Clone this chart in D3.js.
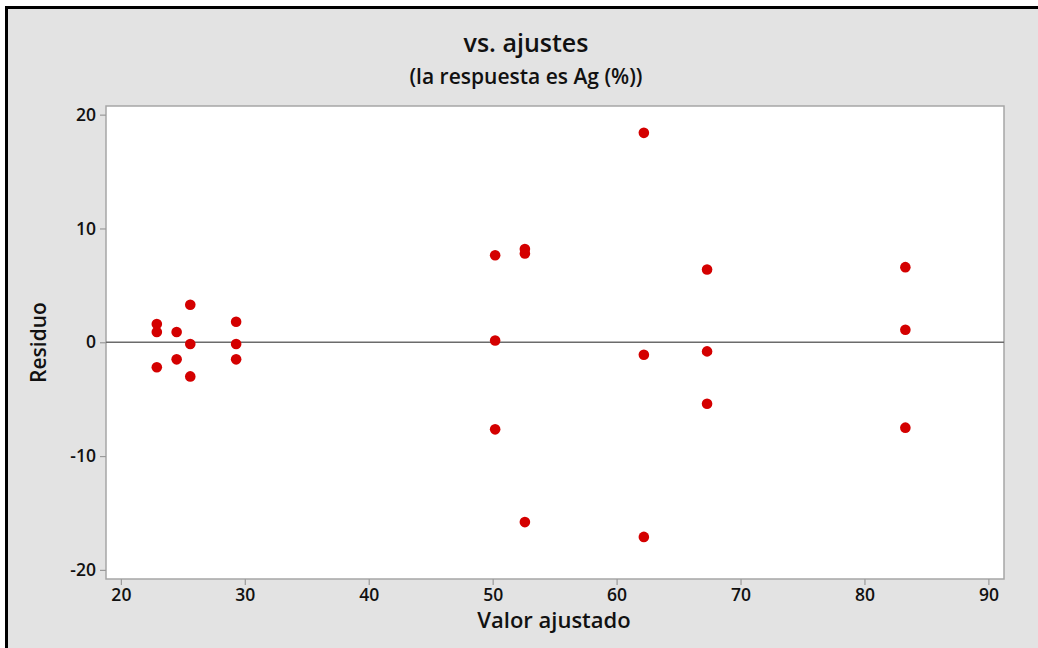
<!DOCTYPE html>
<html>
<head>
<meta charset="utf-8">
<script src="https://cdn.jsdelivr.net/npm/d3@7"></script>
<style>
  html, body { margin: 0; padding: 0; background: #ffffff; }
  svg { display: block; }
  text { font-family: "Open Sans", "Noto Sans", sans-serif; fill: #111; }
</style>
</head>
<body>
<svg id="chart" width="1038" height="648"></svg>
<script>
// ---- Data ----
const fittedValues = [
  22.9, 22.9, 22.9,
  24.5, 24.5,
  25.6, 25.6, 25.6,
  29.3, 29.3, 29.3,
  50.2, 50.2, 50.2,
  52.6, 52.6, 52.6,
  62.2, 62.2, 62.2,
  67.3, 67.3, 67.3,
  83.3, 83.3, 83.3
];
const residuals = [
  1.6, 0.9, -2.2,
  0.9, -1.5,
  3.3, -0.15, -3.0,
  1.8, -0.15, -1.5,
  7.65, 0.15, -7.65,
  8.2, 7.8, -15.8,
  18.4, -1.1, -17.1,
  6.4, -0.8, -5.4,
  6.6, 1.1, -7.5
];
const xTicks = [20, 30, 40, 50, 60, 70, 80, 90];
const yTicks = [-20, -10, 0, 10, 20];
const titleText = "vs. ajustes";
const subtitleText = "(la respuesta es Ag (%))";
const xLabel = "Valor ajustado";
const yLabel = "Residuo";

// ---- Layout ----
const svg = d3.select("#chart");
const W = 1038, H = 648;
const plot = { left: 106, right: 1004, top: 106, bottom: 579 };

// background + outer frame
svg.append("rect").attr("x", 0).attr("y", 0).attr("width", W).attr("height", H).attr("fill", "#ffffff");
svg.append("rect").attr("x", 6.5).attr("y", 7.5).attr("width", W + 20).attr("height", H + 20)
  .attr("fill", "#e3e3e3").attr("stroke", "#000").attr("stroke-width", 3);

const x = d3.scaleLinear().domain([18.8, 91.26]).range([plot.left, plot.right]);
const y = d3.scaleLinear().domain([-20.8, 20.76]).range([plot.bottom, plot.top]);

// plot area
svg.append("rect")
  .attr("x", plot.left).attr("y", plot.top)
  .attr("width", plot.right - plot.left).attr("height", plot.bottom - plot.top)
  .attr("fill", "#ffffff").attr("stroke", "#a6a6a6").attr("stroke-width", 1.5);

// axes
const fmt = d => String(d); // plain hyphen-minus like the reference
const xAxis = d3.axisBottom(x).tickValues(xTicks).tickSize(6).tickPadding(3).tickFormat(fmt);
const yAxis = d3.axisLeft(y).tickValues(yTicks).tickSize(6).tickPadding(4).tickFormat(fmt);

const gx = svg.append("g").attr("transform", `translate(0,${plot.bottom})`).call(xAxis);
const gy = svg.append("g").attr("transform", `translate(${plot.left},0)`).call(yAxis);
[gx, gy].forEach(g => {
  g.select(".domain").remove();
  g.selectAll(".tick line").attr("stroke", "#9a9a9a").attr("stroke-width", 1.2);
  g.selectAll(".tick text").attr("font-size", 17.5).attr("font-weight", 600)
    .attr("fill", "#111").style("font-family", '"Open Sans", sans-serif');
});
gx.selectAll(".tick text").attr("dy", "0.75em");

// reference line at 0
svg.append("line")
  .attr("x1", plot.left).attr("x2", plot.right)
  .attr("y1", y(0)).attr("y2", y(0))
  .attr("stroke", "#6b6b6b").attr("stroke-width", 1.6);

// points
const pts = fittedValues.map((f, i) => ({ f, r: residuals[i] }));
svg.append("g").selectAll("circle").data(pts).join("circle")
  .attr("cx", d => x(d.f)).attr("cy", d => y(d.r)).attr("r", 5.3)
  .attr("fill", "#d40000");

// titles
svg.append("text").attr("x", 526).attr("y", 52).attr("text-anchor", "middle")
  .attr("font-size", 25).attr("font-weight", 600).text(titleText);
svg.append("text").attr("x", 526).attr("y", 84).attr("text-anchor", "middle")
  .attr("font-size", 21).attr("font-weight", 600).text(subtitleText);
svg.append("text").attr("x", 554).attr("y", 628).attr("text-anchor", "middle")
  .attr("font-size", 22).attr("font-weight", 600).text(xLabel);
svg.append("text").attr("transform", `translate(46,${(plot.top + plot.bottom) / 2}) rotate(-90)`)
  .attr("text-anchor", "middle").attr("font-size", 21).attr("font-weight", 600).text(yLabel);
</script>
</body>
</html>
